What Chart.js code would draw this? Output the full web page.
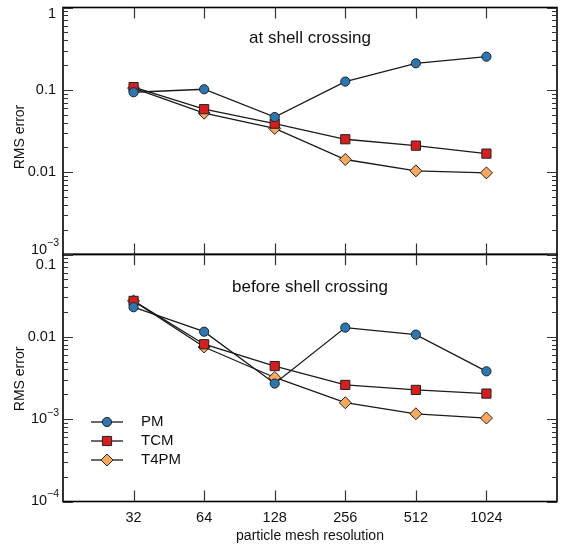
<!DOCTYPE html>
<html><head><meta charset="utf-8">
<script src="https://cdn.jsdelivr.net/npm/chart.js@4.4.1/dist/chart.umd.min.js"></script>
<style>
html,body{margin:0;padding:0;background:#fff;}
#wrap{position:relative;width:570px;height:551px;}
#wrap canvas{position:absolute;left:0;top:0;}
</style></head><body>
<div id="wrap"><canvas id="cTop" width="570" height="551"></canvas><canvas id="cBot" width="570" height="551"></canvas></div>
<script>
// ---- data ----
const resolutions = [32, 64, 128, 256, 512, 1024];
const seriesNames = ['PM', 'TCM', 'T4PM'];
const pmShell     = [0.0935, 0.1017, 0.0467, 0.126, 0.21, 0.253];
const tcmShell    = [0.108, 0.0582, 0.0388, 0.0251, 0.021, 0.0168];
const t4pmShell   = [0.105, 0.052, 0.034, 0.01425, 0.01037, 0.0098];
const pmBefore    = [0.0228, 0.0115, 0.0027, 0.0129, 0.0106, 0.0038];
const tcmBefore   = [0.0272, 0.0081, 0.0044, 0.0026, 0.00226, 0.00204];
const t4pmBefore  = [0.0272, 0.0075, 0.0032, 0.00158, 0.00116, 0.00103];
const xTickLabels = ['32', '64', '128', '256', '512', '1024'];
const topYTicks   = [1, 0.1, 0.01, 0.001];
const botYTicks   = [0.1, 0.01, 0.001, 0.0001];
const topTitle = 'at shell crossing';
const botTitle = 'before shell crossing';
const yTitle = 'RMS error';
const xTitle = 'particle mesh resolution';

// ---- styles ----
const FONT = '"Liberation Sans", Arial, Helvetica, sans-serif';
const styles = [
  {pointStyle: 'circle',  radius: 4.6, fill: '#2b77b3'},
  {pointStyle: 'rect',    radius: 6.5, fill: '#d91c1c'},
  {pointStyle: 'rectRot', radius: 6.0, fill: '#fba75c'}
];

function makeDatasets(arrs) {
  return arrs.map((arr, i) => ({
    label: seriesNames[i],
    data: resolutions.map((r, j) => ({x: r, y: arr[j]})),
    borderColor: '#1a1a1a',
    borderWidth: 1.3,
    pointStyle: styles[i].pointStyle,
    pointRadius: styles[i].radius,
    pointBackgroundColor: styles[i].fill,
    pointBorderColor: '#222',
    pointBorderWidth: 1,
    tension: 0,
    clip: false
  }));
}

function fmtLabel(v) {
  if (v >= 0.01) return {base: String(v), exp: null};
  return {base: '10', exp: '\u2212' + String(-Math.round(Math.log10(v)))};
}

function drawMarker(ctx, style, x, y) {
  ctx.save();
  ctx.fillStyle = style.fill; ctx.strokeStyle = '#222'; ctx.lineWidth = 1;
  ctx.beginPath();
  const r = style.radius;
  if (style.pointStyle === 'circle') ctx.arc(x, y, r, 0, Math.PI * 2);
  else if (style.pointStyle === 'rect') { const s = r * Math.SQRT1_2; ctx.rect(x - s, y - s, 2 * s, 2 * s); }
  else { ctx.moveTo(x - r, y); ctx.lineTo(x, y - r); ctx.lineTo(x + r, y); ctx.lineTo(x, y + r); ctx.closePath(); }
  ctx.fill(); ctx.stroke();
  ctx.restore();
}

function panelPlugin(cfg) {
  return {
    id: 'panel' + cfg.name,
    afterDraw(chart) {
      const ctx = chart.ctx;
      const {left, right, top, bottom} = chart.chartArea;
      const xs = chart.scales.x, ys = chart.scales.y;
      ctx.save();
      // frame
      ctx.strokeStyle = '#000'; ctx.lineWidth = 1.6;
      ctx.strokeRect(left, top, right - left, bottom - top);
      // x ticks (inward, top and bottom)
      ctx.strokeStyle = '#333'; ctx.lineWidth = 1.2;
      ctx.beginPath();
      resolutions.forEach(r => {
        const px = Math.round(xs.getPixelForValue(r)) + 0.5;
        ctx.moveTo(px, top); ctx.lineTo(px, top + 11);
        ctx.moveTo(px, bottom); ctx.lineTo(px, bottom - 11);
      });
      ctx.stroke();
      // y ticks, major + minor, both sides
      const lo = Math.round(Math.log10(ys.min)), hi = Math.round(Math.log10(ys.max));
      ctx.beginPath();
      for (let d = lo; d <= hi; d++) {
        for (let m = 1; m <= 9; m++) {
          const v = m * Math.pow(10, d);
          if (v < ys.min * 0.999 || v > ys.max * 1.001) continue;
          const py = Math.round(ys.getPixelForValue(v)) + 0.5;
          const len = m === 1 ? 10 : 5;
          ctx.moveTo(left, py); ctx.lineTo(left + len, py);
          ctx.moveTo(right, py); ctx.lineTo(right - len, py);
        }
      }
      ctx.stroke();
      // y tick labels
      ctx.fillStyle = '#111';
      ctx.textBaseline = 'middle';
      cfg.yTicks.forEach((v, k) => {
        const py = ys.getPixelForValue(v) + cfg.labelShift[k];
        const lab = fmtLabel(v);
        ctx.font = '14.5px ' + FONT;
        if (!lab.exp) {
          ctx.textAlign = 'right';
          ctx.fillText(lab.base, 56, py);
        } else {
          ctx.font = '10.5px ' + FONT;
          const ew = ctx.measureText(lab.exp).width;
          ctx.textAlign = 'right';
          ctx.fillText(lab.exp, 59, py - 6);
          ctx.font = '14.5px ' + FONT;
          ctx.fillText(lab.base, 59 - ew, py);
        }
      });
      // y title
      ctx.save();
      ctx.translate(20, (top + bottom) / 2 + cfg.yTitleShift);
      ctx.rotate(-Math.PI / 2);
      ctx.textAlign = 'center'; ctx.textBaseline = 'middle';
      ctx.font = '14px ' + FONT;
      ctx.fillText(yTitle, 0, 0);
      ctx.restore();
      // panel annotation
      ctx.textAlign = 'center'; ctx.textBaseline = 'middle';
      ctx.font = '17px ' + FONT;
      ctx.fillText(cfg.title, (left + right) / 2, top + cfg.titleOffset);
      if (cfg.bottomAxis) {
        ctx.font = '14.5px ' + FONT;
        resolutions.forEach((r, i) => {
          ctx.fillText(xTickLabels[i], xs.getPixelForValue(r), bottom + 16);
        });
        ctx.font = '14px ' + FONT;
        ctx.fillText(xTitle, (left + right) / 2, bottom + 35);
        // legend
        seriesNames.forEach((name, i) => {
          const ly = 422 + 19 * i;
          ctx.strokeStyle = '#1a1a1a'; ctx.lineWidth = 1.3;
          ctx.beginPath(); ctx.moveTo(91, ly); ctx.lineTo(123, ly); ctx.stroke();
          drawMarker(ctx, styles[i], 107, ly);
          ctx.fillStyle = '#111';
          ctx.textAlign = 'left'; ctx.font = '15px ' + FONT;
          ctx.fillText(name, 141, ly);
        });
      }
      ctx.restore();
    }
  };
}

function makeChart(id, arrs, yMin, yMax, padding, cfg) {
  return new Chart(document.getElementById(id), {
    type: 'line',
    data: {datasets: makeDatasets(arrs)},
    options: {
      responsive: false, animation: false, devicePixelRatio: 1,
      layout: {padding: padding},
      plugins: {legend: {display: false}, tooltip: {enabled: false}},
      scales: {
        x: {type: 'logarithmic', min: 16, max: 2048, display: false},
        y: {type: 'logarithmic', min: yMin, max: yMax, display: false}
      }
    },
    plugins: [panelPlugin(cfg)]
  });
}

makeChart('cTop', [pmShell, tcmShell, t4pmShell], 0.001, 1,
  {top: 6.6, bottom: 296.5, left: 63, right: 13},
  {name: 'Top', yTicks: topYTicks, labelShift: [6, 0, 0, -5], yTitleShift: 6, title: topTitle, titleOffset: 31, bottomAxis: false});
makeChart('cBot', [pmBefore, tcmBefore, t4pmBefore], 0.0001, 0.1,
  {top: 254.3, bottom: 49.5, left: 63, right: 13},
  {name: 'Bot', yTicks: botYTicks, labelShift: [11, 0, 0, -1], yTitleShift: 1, title: botTitle, titleOffset: 33, bottomAxis: true});
</script>
</body></html>
